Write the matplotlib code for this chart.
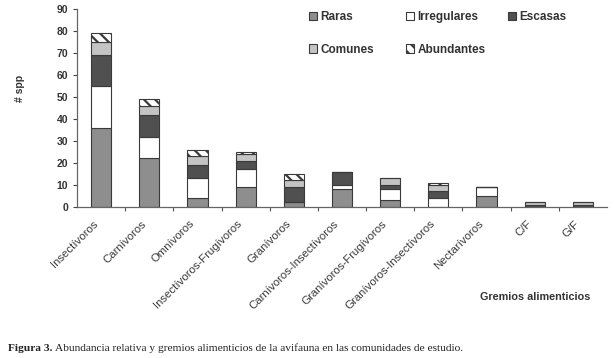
import matplotlib
matplotlib.use("Agg")
import matplotlib.pyplot as plt
import matplotlib.transforms as mtransforms
import numpy as np

gremios = ["Insectívoros", "Carnívoros", "Omnívoros", "Insectívoros-Frugívoros",
           "Granívoros", "Carnívoros-Insectívoros", "Granívoros-Frugívoros",
           "Granívoros-Insectívoros", "Nectarívoros", "C/F", "G/F"]
raras = [36, 22, 4, 9, 2, 8, 3, 0, 5, 0, 0]
irregulares = [19, 10, 9, 8, 0, 2, 5, 4, 4, 0, 0]
escasas = [14, 10, 6, 4, 7, 6, 2, 3, 0, 1, 1]
comunes = [6, 4, 4, 3, 3, 0, 3, 3, 0, 1, 1]
abundantes = [4, 3, 3, 1, 3, 0, 0, 1, 0, 0, 0]

series = [("Raras", raras, "#8e8e8e", None),
          ("Irregulares", irregulares, "white", None),
          ("Escasas", escasas, "#505050", None),
          ("Comunes", comunes, "#c4c4c4", None),
          ("Abundantes", abundantes, "white", "\\\\\\")]

plt.rcParams['font.family'] = ['Liberation Sans', 'DejaVu Sans']
plt.rcParams['hatch.linewidth'] = 1.6
plt.rcParams['hatch.color'] = '#333333'

fig = plt.figure(figsize=(6.14, 3.58), dpi=100)
ax = fig.add_axes([0.1254, 0.4226, 0.8632, 0.5514])

x = np.arange(len(gremios))
bottom = np.zeros(len(gremios))
handles = []
for nombre, vals, color, hatch in series:
    vals = np.array(vals, dtype=float)
    b = ax.bar(x, vals, 0.42, bottom=bottom, color=color, edgecolor="#3a3a3a",
               linewidth=0.8, hatch=hatch, label=nombre)
    handles.append(b)
    bottom += vals

ax.set_xlim(-0.5, len(gremios) - 0.5)
ax.set_ylim(0, 90)
ax.set_yticks(range(0, 91, 10))
ax.tick_params(axis="y", labelsize=7.5, colors="#444444", length=3, width=0.8)
for t in ax.get_yticklabels():
    t.set_fontweight("bold")
    t.set_color("#333333")

ax.set_xticks(x)
ax.set_xticklabels(gremios, rotation=45, ha="right", va="center",
                   rotation_mode="anchor", fontsize=8.2, color="#3a3a3a")
ax.tick_params(axis="x", length=0, pad=11)
# correr las etiquetas un poco a la izquierda
desplaz = mtransforms.ScaledTranslation(-5 / 100, 0, fig.dpi_scale_trans)
for t in ax.get_xticklabels():
    t.set_transform(t.get_transform() + desplaz)
ax.set_xticks(np.arange(0.5, len(gremios) - 0.5, 1), minor=True)
ax.tick_params(axis="x", which="minor", length=3, width=0.8, colors="#555555")

for s in ["top", "right"]:
    ax.spines[s].set_visible(False)
for s in ["left", "bottom"]:
    ax.spines[s].set_color("#666666")
    ax.spines[s].set_linewidth(0.9)

ax.set_ylabel("# spp", fontsize=7.5, fontweight="bold", color="#333333")
ax.yaxis.set_label_coords(-0.098, 0.6)

# leyenda: tres columnas colocadas a mano
columnas = [([0, 3], 303), ([1, 4], 400), ([2], 502)]
for idx, px in columnas:
    fig.legend([handles[i] for i in idx], [series[i][0] for i in idx],
               loc="upper left", bbox_to_anchor=(px / 614, 1 - 5 / 358),
               frameon=False, borderpad=0, prop={"weight": "bold", "size": 8.5},
               handlelength=0.7, handleheight=0.7, handletextpad=0.3,
               labelspacing=1.75, labelcolor="#333333")

fig.text(0.782, 0.163, "Gremios alimenticios", fontsize=7.8, fontweight="bold",
         color="#333333")

fig.text(0.013, 0.02, "Figura 3.", fontsize=8.2, fontweight="bold",
         family=["Liberation Serif", "DejaVu Serif"], color="#222222")
fig.text(0.09, 0.02, "Abundancia relativa y gremios alimenticios de la avifauna en las comunidades de estudio.",
         fontsize=8.2, family=["Liberation Serif", "DejaVu Serif"], color="#222222")

fig.savefig("out.png", dpi=100)
